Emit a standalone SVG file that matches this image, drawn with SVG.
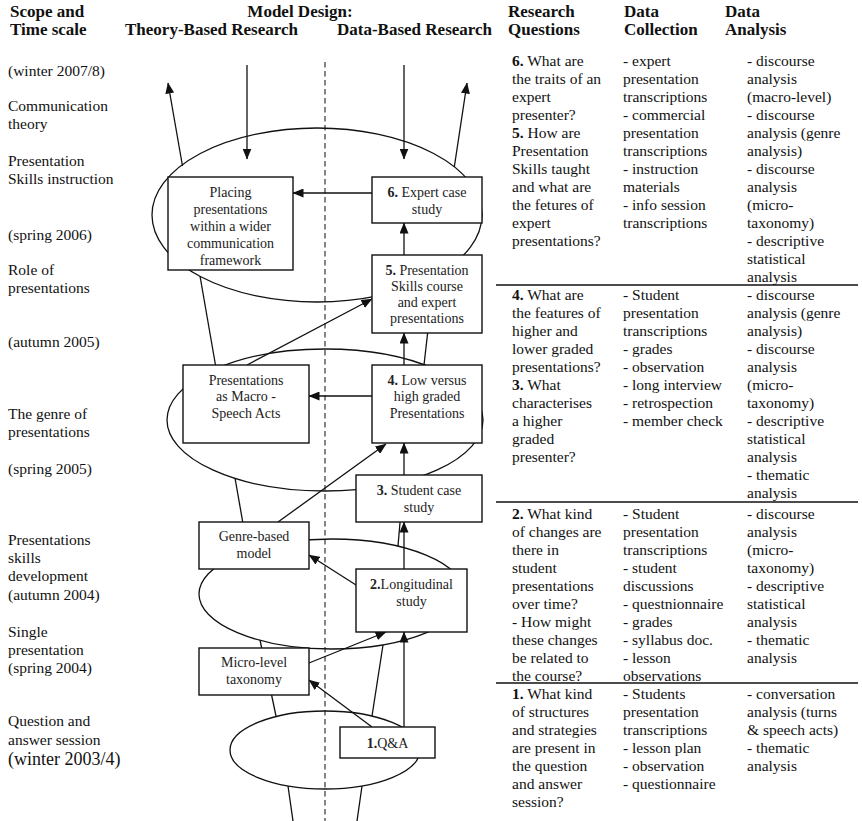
<svg xmlns="http://www.w3.org/2000/svg" width="862" height="821" viewBox="0 0 862 821">
  <style>
    text { font-family: "Liberation Serif", "Times New Roman", serif; fill: #111; }
    .t { font-size: 15.5px; }
    .h { font-size: 17px; font-weight: bold; }
    .big { font-size: 18px; }
    .bt { font-size: 14px; text-anchor: middle; fill: #222; }
    .b { font-weight: bold; }
    .bx { fill: #fff; stroke: #111; stroke-width: 1.4; }
    .ln { fill: none; stroke: #111; stroke-width: 1.3; }
    .ar { fill: none; stroke: #111; stroke-width: 1.3; marker-end: url(#ah); }
    .sep { stroke: #111; stroke-width: 1.4; }
    .div { stroke: #444; stroke-width: 1.3; stroke-dasharray: 5.5 3.5; }
  </style>
  <defs>
    <marker id="ah" markerWidth="11" markerHeight="9" refX="10.5" refY="4.5" orient="auto" markerUnits="userSpaceOnUse">
      <path d="M0,0 L11,4.5 L0,9 z" fill="#111"/>
    </marker>
  </defs>

  <!-- column headings -->
  <g id="headings">
    <text class="h" x="10" y="17">Scope and</text>
    <text class="h" x="10" y="35">Time scale</text>
    <text class="h" x="300" y="17" text-anchor="middle">Model Design:</text>
    <text class="h" x="125" y="35">Theory-Based Research</text>
    <text class="h" x="337" y="35">Data-Based Research</text>
    <text class="h" x="508" y="17">Research</text>
    <text class="h" x="508" y="35">Questions</text>
    <text class="h" x="624" y="17">Data</text>
    <text class="h" x="624" y="35">Collection</text>
    <text class="h" x="725" y="17">Data</text>
    <text class="h" x="725" y="35">Analysis</text>
  </g>

  <!-- scope and time scale labels -->
  <g id="timescale" class="t">
    <text x="8" y="76">(winter 2007/8)</text>
    <text x="8" y="111">Communication</text>
    <text x="8" y="129">theory</text>
    <text x="8" y="166">Presentation</text>
    <text x="8" y="184">Skills instruction</text>
    <text x="8" y="240">(spring 2006)</text>
    <text x="8" y="275">Role of</text>
    <text x="8" y="293">presentations</text>
    <text x="8" y="347">(autumn 2005)</text>
    <text x="8" y="419">The genre of</text>
    <text x="8" y="437">presentations</text>
    <text x="8" y="474">(spring 2005)</text>
    <text x="8" y="545">Presentations</text>
    <text x="8" y="563">skills</text>
    <text x="8" y="581">development</text>
    <text x="8" y="600">(autumn 2004)</text>
    <text x="8" y="637">Single</text>
    <text x="8" y="655">presentation</text>
    <text x="8" y="673">(spring 2004)</text>
    <text x="8" y="726">Question and</text>
    <text x="8" y="745">answer session</text>
    <text class="big" x="8" y="765">(winter 2003/4)</text>
  </g>

  <!-- divider between theory-based and data-based research -->
  <line class="div" x1="325" y1="62" x2="325" y2="821"/>

  <!-- research phases: ellipses joined by a funnel -->
  <g id="phases" class="ln">
    <ellipse cx="317" cy="215" rx="165" ry="87"/>
    <ellipse cx="325" cy="420" rx="158" ry="71"/>
    <ellipse cx="332" cy="594" rx="133" ry="55"/>
    <ellipse cx="325" cy="750" rx="95" ry="39"/>
    <line x1="200" y1="276" x2="216" y2="368"/>
    <line x1="434" y1="277" x2="424" y2="365"/>
    <line x1="235" y1="478" x2="248" y2="552"/>
    <line x1="403.5" y1="482" x2="398" y2="546"/>
    <line x1="260" y1="640" x2="276" y2="716"/>
    <line x1="383" y1="645" x2="372" y2="716"/>
    <line x1="288" y1="786" x2="293" y2="821"/>
    <line x1="362" y1="786" x2="357" y2="821"/>
  </g>

  <!-- connectors -->
  <g id="connectors">
    <line class="ar" x1="182.5" y1="166" x2="168" y2="83"/>
    <line class="ar" x1="454.3" y1="167" x2="467" y2="83"/>
    <line class="ar" x1="247" y1="65" x2="247" y2="159"/>
    <line class="ar" x1="404" y1="65" x2="404" y2="159"/>
    <line class="ar" x1="372" y1="193" x2="293" y2="193"/>
    <line class="ar" x1="404" y1="255" x2="404" y2="223"/>
    <line class="ar" x1="372" y1="396" x2="309" y2="396"/>
    <line class="ar" x1="404" y1="365" x2="404" y2="333"/>
    <line class="ar" x1="247" y1="365" x2="372" y2="299"/>
    <line class="ar" x1="404" y1="475" x2="404" y2="443"/>
    <line class="ar" x1="278" y1="522" x2="386" y2="444"/>
    <line class="ar" x1="404" y1="569" x2="404" y2="522"/>
    <line class="ar" x1="356" y1="585" x2="309" y2="555"/>
    <line class="ar" x1="309" y1="663" x2="386" y2="632"/>
    <line class="ar" x1="404" y1="727" x2="404" y2="632"/>
    <line class="ar" x1="372" y1="727" x2="309" y2="680"/>
  </g>

  <!-- theory-based nodes -->
  <g id="placing">
    <rect class="bx" x="168" y="177" width="125" height="93"/>
    <text class="bt" x="230.5" y="197">Placing</text>
    <text class="bt" x="230.5" y="214">presentations</text>
    <text class="bt" x="230.5" y="231">within a wider</text>
    <text class="bt" x="230.5" y="248">communication</text>
    <text class="bt" x="230.5" y="265">framework</text>
  </g>
  <g id="macro-speech-acts">
    <rect class="bx" x="183" y="365" width="126" height="78"/>
    <text class="bt" x="246" y="385">Presentations</text>
    <text class="bt" x="246" y="401">as Macro -</text>
    <text class="bt" x="246" y="418">Speech Acts</text>
  </g>
  <g id="genre-model">
    <rect class="bx" x="199" y="522" width="110" height="47"/>
    <text class="bt" x="254" y="541">Genre-based</text>
    <text class="bt" x="254" y="558">model</text>
  </g>
  <g id="micro-taxonomy">
    <rect class="bx" x="199" y="648" width="110" height="47"/>
    <text class="bt" x="254" y="667">Micro-level</text>
    <text class="bt" x="254" y="684">taxonomy</text>
  </g>

  <!-- data-based nodes -->
  <g id="study6">
    <rect class="bx" x="372" y="177" width="110" height="46"/>
    <text class="bt" x="427" y="197"><tspan class="b">6.</tspan> Expert case</text>
    <text class="bt" x="427" y="214">study</text>
  </g>
  <g id="study5">
    <rect class="bx" x="372" y="255" width="110" height="78"/>
    <text class="bt" x="427" y="275"><tspan class="b">5.</tspan> Presentation</text>
    <text class="bt" x="427" y="291">Skills course</text>
    <text class="bt" x="427" y="307">and expert</text>
    <text class="bt" x="427" y="323">presentations</text>
  </g>
  <g id="study4">
    <rect class="bx" x="372" y="365" width="110" height="78"/>
    <text class="bt" x="427" y="385"><tspan class="b">4.</tspan> Low versus</text>
    <text class="bt" x="427" y="401">high graded</text>
    <text class="bt" x="427" y="418">Presentations</text>
  </g>
  <g id="study3">
    <rect class="bx" x="356" y="475" width="126" height="47"/>
    <text class="bt" x="419" y="495"><tspan class="b">3.</tspan> Student case</text>
    <text class="bt" x="419" y="512">study</text>
  </g>
  <g id="study2">
    <rect class="bx" x="356" y="569" width="111" height="63"/>
    <text class="bt" x="411.5" y="589"><tspan class="b">2.</tspan>Longitudinal</text>
    <text class="bt" x="411.5" y="606">study</text>
  </g>
  <g id="study1">
    <rect class="bx" x="340" y="727" width="95" height="31"/>
    <text class="bt" x="387.5" y="748"><tspan class="b">1.</tspan>Q&amp;A</text>
  </g>

  <!-- table separators -->
  <g id="rules">
    <line class="sep" x1="496" y1="285" x2="858" y2="285"/>
    <line class="sep" x1="496" y1="502" x2="858" y2="502"/>
    <line class="sep" x1="496" y1="683" x2="858" y2="683"/>
  </g>

  <!-- table: questions, collection, analysis -->
  <g id="table" class="t">
    <text x="512" y="66">
      <tspan x="512"><tspan class="b">6.</tspan> What are</tspan>
      <tspan x="512" dy="18">the traits of an</tspan>
      <tspan x="512" dy="18">expert</tspan>
      <tspan x="512" dy="18">presenter?</tspan>
      <tspan x="512" dy="18"><tspan class="b">5.</tspan> How are</tspan>
      <tspan x="512" dy="18">Presentation</tspan>
      <tspan x="512" dy="18">Skills taught</tspan>
      <tspan x="512" dy="18">and what are</tspan>
      <tspan x="512" dy="18">the fetures of</tspan>
      <tspan x="512" dy="18">expert</tspan>
      <tspan x="512" dy="18">presentations?</tspan>
    </text>
    <text x="623" y="66">
      <tspan x="623">- expert</tspan>
      <tspan x="623" dy="18">presentation</tspan>
      <tspan x="623" dy="18">transcriptions</tspan>
      <tspan x="623" dy="18">- commercial</tspan>
      <tspan x="623" dy="18">presentation</tspan>
      <tspan x="623" dy="18">transcriptions</tspan>
      <tspan x="623" dy="18">- instruction</tspan>
      <tspan x="623" dy="18">materials</tspan>
      <tspan x="623" dy="18">- info session</tspan>
      <tspan x="623" dy="18">transcriptions</tspan>
    </text>
    <text x="747" y="66">
      <tspan x="747">- discourse</tspan>
      <tspan x="747" dy="18">analysis</tspan>
      <tspan x="747" dy="18">(macro-level)</tspan>
      <tspan x="747" dy="18">- discourse</tspan>
      <tspan x="747" dy="18">analysis (genre</tspan>
      <tspan x="747" dy="18">analysis)</tspan>
      <tspan x="747" dy="18">- discourse</tspan>
      <tspan x="747" dy="18">analysis</tspan>
      <tspan x="747" dy="18">(micro-</tspan>
      <tspan x="747" dy="18">taxonomy)</tspan>
      <tspan x="747" dy="18">- descriptive</tspan>
      <tspan x="747" dy="18">statistical</tspan>
      <tspan x="747" dy="18">analysis</tspan>
    </text>

    <text x="512" y="300">
      <tspan x="512"><tspan class="b">4.</tspan> What are</tspan>
      <tspan x="512" dy="18">the features of</tspan>
      <tspan x="512" dy="18">higher and</tspan>
      <tspan x="512" dy="18">lower graded</tspan>
      <tspan x="512" dy="18">presentations?</tspan>
      <tspan x="512" dy="18"><tspan class="b">3.</tspan> What</tspan>
      <tspan x="512" dy="18">characterises</tspan>
      <tspan x="512" dy="18">a higher</tspan>
      <tspan x="512" dy="18">graded</tspan>
      <tspan x="512" dy="18">presenter?</tspan>
    </text>
    <text x="623" y="300">
      <tspan x="623">- Student</tspan>
      <tspan x="623" dy="18">presentation</tspan>
      <tspan x="623" dy="18">transcriptions</tspan>
      <tspan x="623" dy="18">- grades</tspan>
      <tspan x="623" dy="18">- observation</tspan>
      <tspan x="623" dy="18">- long interview</tspan>
      <tspan x="623" dy="18">- retrospection</tspan>
      <tspan x="623" dy="18">- member check</tspan>
    </text>
    <text x="747" y="300">
      <tspan x="747">- discourse</tspan>
      <tspan x="747" dy="18">analysis (genre</tspan>
      <tspan x="747" dy="18">analysis)</tspan>
      <tspan x="747" dy="18">- discourse</tspan>
      <tspan x="747" dy="18">analysis</tspan>
      <tspan x="747" dy="18">(micro-</tspan>
      <tspan x="747" dy="18">taxonomy)</tspan>
      <tspan x="747" dy="18">- descriptive</tspan>
      <tspan x="747" dy="18">statistical</tspan>
      <tspan x="747" dy="18">analysis</tspan>
      <tspan x="747" dy="18">- thematic</tspan>
      <tspan x="747" dy="18">analysis</tspan>
    </text>

    <text x="512" y="519">
      <tspan x="512"><tspan class="b">2.</tspan> What kind</tspan>
      <tspan x="512" dy="18">of changes are</tspan>
      <tspan x="512" dy="18">there in</tspan>
      <tspan x="512" dy="18">student</tspan>
      <tspan x="512" dy="18">presentations</tspan>
      <tspan x="512" dy="18">over time?</tspan>
      <tspan x="512" dy="18">- How might</tspan>
      <tspan x="512" dy="18">these changes</tspan>
      <tspan x="512" dy="18">be related to</tspan>
      <tspan x="512" dy="18">the course?</tspan>
    </text>
    <text x="623" y="519">
      <tspan x="623">- Student</tspan>
      <tspan x="623" dy="18">presentation</tspan>
      <tspan x="623" dy="18">transcriptions</tspan>
      <tspan x="623" dy="18">- student</tspan>
      <tspan x="623" dy="18">discussions</tspan>
      <tspan x="623" dy="18">- questnionnaire</tspan>
      <tspan x="623" dy="18">- grades</tspan>
      <tspan x="623" dy="18">- syllabus doc.</tspan>
      <tspan x="623" dy="18">- lesson</tspan>
      <tspan x="623" dy="18">observations</tspan>
    </text>
    <text x="747" y="519">
      <tspan x="747">- discourse</tspan>
      <tspan x="747" dy="18">analysis</tspan>
      <tspan x="747" dy="18">(micro-</tspan>
      <tspan x="747" dy="18">taxonomy)</tspan>
      <tspan x="747" dy="18">- descriptive</tspan>
      <tspan x="747" dy="18">statistical</tspan>
      <tspan x="747" dy="18">analysis</tspan>
      <tspan x="747" dy="18">- thematic</tspan>
      <tspan x="747" dy="18">analysis</tspan>
    </text>

    <text x="512" y="699">
      <tspan x="512"><tspan class="b">1.</tspan> What kind</tspan>
      <tspan x="512" dy="18">of structures</tspan>
      <tspan x="512" dy="18">and strategies</tspan>
      <tspan x="512" dy="18">are present in</tspan>
      <tspan x="512" dy="18">the question</tspan>
      <tspan x="512" dy="18">and answer</tspan>
      <tspan x="512" dy="18">session?</tspan>
    </text>
    <text x="623" y="699">
      <tspan x="623">- Students</tspan>
      <tspan x="623" dy="18">presentation</tspan>
      <tspan x="623" dy="18">transcriptions</tspan>
      <tspan x="623" dy="18">- lesson plan</tspan>
      <tspan x="623" dy="18">- observation</tspan>
      <tspan x="623" dy="18">- questionnaire</tspan>
    </text>
    <text x="747" y="699">
      <tspan x="747">- conversation</tspan>
      <tspan x="747" dy="18">analysis (turns</tspan>
      <tspan x="747" dy="18">&amp; speech acts)</tspan>
      <tspan x="747" dy="18">- thematic</tspan>
      <tspan x="747" dy="18">analysis</tspan>
    </text>
  </g>
</svg>
